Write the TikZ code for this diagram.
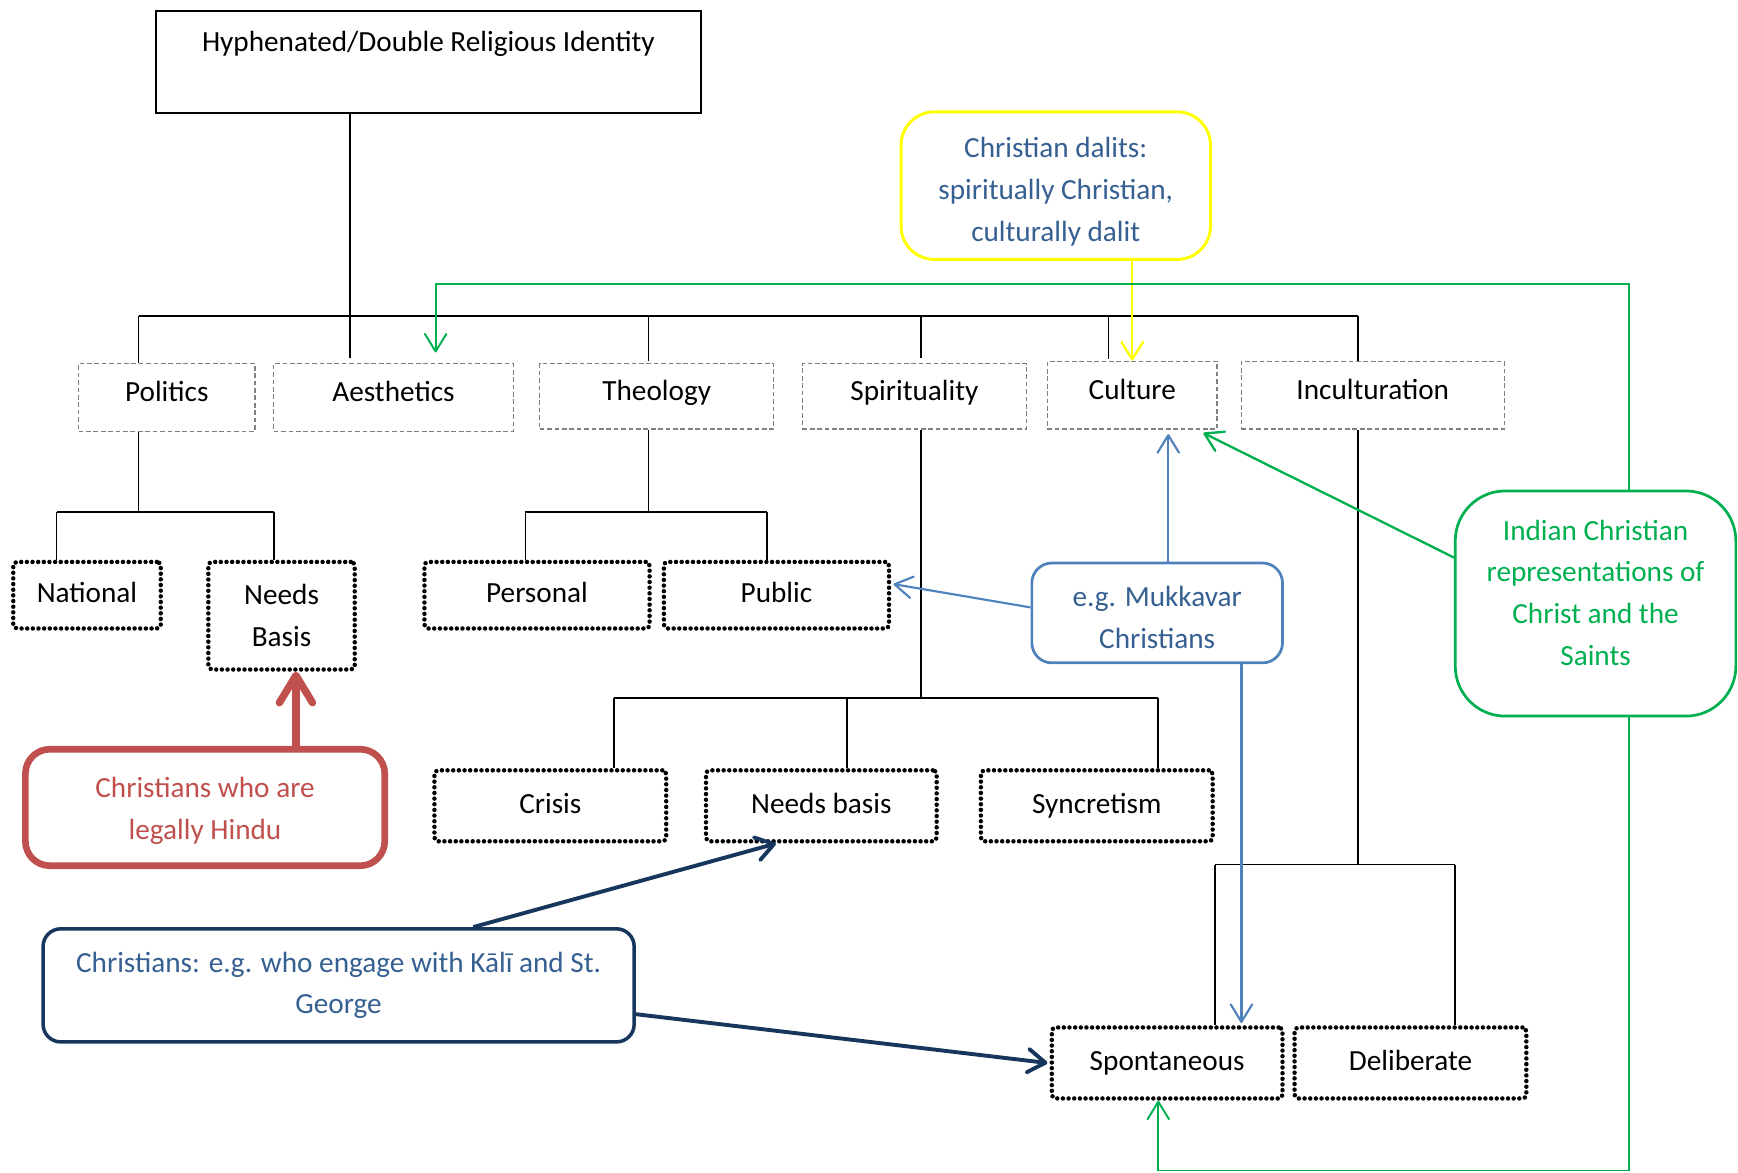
\documentclass[tikz,border=0pt]{standalone}
\usepackage{fontspec}
\setmainfont{Carlito}
\usetikzlibrary{arrows.meta}
\definecolor{txtblue}{HTML}{366092}
\definecolor{cgreen}{HTML}{00B050}
\definecolor{cblue}{HTML}{4F81BD}
\definecolor{cred}{HTML}{C0504D}
\definecolor{cnavy}{HTML}{17365D}
\definecolor{cyel}{HTML}{FFFF00}
\definecolor{dgray}{HTML}{7F7F7F}
\begin{document}
\begin{tikzpicture}[x=0.01cm,y=-0.01cm,
  font=\fontsize{7.5}{10.7}\selectfont,
  titlebox/.style={draw=black, line width=0.6pt, inner sep=0pt, align=center},
  dbox/.style={draw=dgray, line width=0.35pt, dash pattern=on 1.2pt off 0.7pt, inner sep=0pt, text height=5.4pt, text depth=3.2pt},
  pbox/.style={draw=black, line width=1.15pt, dash pattern=on 0pt off 1.45pt, line cap=round, rounded corners=1pt, inner sep=0pt},
  pone/.style={pbox, text height=6.8pt, text depth=3.0pt},
  conn/.style={draw=black, line width=0.45pt},
  callout/.style={fill=white, inner sep=0pt, align=center},
  thinarr/.style={line width=0.55pt, -{Straight Barb[length=4.5pt,width=5.5pt,round]}},
]
\useasboundingbox (0,0) rectangle (1568,1058);

% ---------- boxes ----------
\node[titlebox, minimum width=4.91cm, minimum height=0.92cm] (title) at (386.5,56) {Hyphenated/Double Religious Identity\\ ~};

\node[dbox, minimum width=1.59cm, minimum height=0.61cm] (pol) at (150.5,358.5) {Politics};
\node[dbox, minimum width=2.16cm, minimum height=0.61cm] (aes) at (355,358.5) {Aesthetics};
\node[dbox, minimum width=2.11cm, minimum height=0.59cm] (theo) at (592.5,357.5) {Theology};
\node[dbox, minimum width=2.02cm, minimum height=0.59cm] (spir) at (825,357.5) {Spirituality};
\node[dbox, minimum width=1.53cm, minimum height=0.61cm] (cul) at (1021.5,356.5) {Culture};
\node[dbox, minimum width=2.37cm, minimum height=0.61cm] (inc) at (1238.5,356.5) {Inculturation};

\node[pone, minimum width=1.33cm, minimum height=0.60cm] (nat) at (78.5,537) {National};
\node[pbox, align=center, minimum width=1.32cm, minimum height=0.97cm] (nbA) at (254,555.5) {Needs\\Basis};
\node[pone, minimum width=2.03cm, minimum height=0.60cm] (pers) at (484.5,537) {Personal};
\node[pone, minimum width=2.03cm, minimum height=0.60cm] (pub) at (700.5,537) {Public};

\node[pone, minimum width=2.09cm, minimum height=0.64cm] (cri) at (496.5,727) {Crisis};
\node[pone, minimum width=2.08cm, minimum height=0.64cm] (nbB) at (741,727) {Needs basis};
\node[pone, minimum width=2.09cm, minimum height=0.64cm] (syn) at (989.5,727) {Syncretism};

\node[pone, minimum width=2.08cm, minimum height=0.64cm] (spon) at (1053,959) {Spontaneous};
\node[pone, minimum width=2.09cm, minimum height=0.64cm] (del) at (1272.5,959) {Deliberate};

% ---------- tree connectors ----------
\coordinate (barL) at (125,285);
\coordinate (barR) at (1225,285);
\draw[conn] (barL) -- (barR);
\draw[conn] (title.south -| 316,0) -- (316,323);
\draw[conn] (barL) -- (pol.north -| barL);
\draw[conn] (585,285) -- (585,326);
\draw[conn] (831,285) -- (831,323);
\draw[conn] (1000,285) -- (1000,324);
\draw[conn] (barR) -- (1225,326);

\coordinate (pj) at (125,462);
\draw[conn] (pol.south -| pj) -- (pj);
\draw[conn] (51,462) -- (247,462);
\draw[conn] (51,462) -- (nat.north -| 51,0);
\draw[conn] (247,462) -- (nbA.north -| 247,0);

\coordinate (tj) at (585,462);
\draw[conn] (theo.south -| tj) -- (tj);
\draw[conn] (474,462) -- (692,462);
\draw[conn] (474,462) -- (pers.north -| 474,0);
\draw[conn] (692,462) -- (pub.north -| 692,0);

\coordinate (sj) at (831,630);
\draw[conn] (spir.south -| sj) -- (sj);
\draw[conn] (554,630) -- (1045,630);
\draw[conn] (554,630) -- (cri.north -| 554,0);
\draw[conn] (764,630) -- (nbB.north -| 764,0);
\draw[conn] (1045,630) -- (syn.north -| 1045,0);

\coordinate (ij) at (1225,780);
\draw[conn] (inc.south -| ij) -- (ij);
\draw[conn] (1096,780) -- (1313,780);
\draw[conn] (1096,780) -- (spon.north -| 1096,0);
\draw[conn] (1313,780) -- (del.north -| 1313,0);

% ---------- callouts ----------
\node[callout, draw=cyel, line width=0.75pt, rounded corners=0.3cm, text=txtblue,
      minimum width=2.79cm, minimum height=1.33cm] (yel) at (952.5,167.5)
      {\rule{0pt}{8.3pt}Christian dalits:\\spiritually Christian,\\culturally dalit};
\node[callout, draw=cgreen, line width=0.7pt, rounded corners=0.45cm, text=cgreen,
      minimum width=2.53cm, minimum height=2.03cm] (grn) at (1439.5,544.5)
      {Indian Christian\\representations of\\Christ and the\\Saints\\[-5pt]};
\node[callout, draw=cblue, line width=0.7pt, rounded corners=0.18cm, text=txtblue,
      minimum width=2.26cm, minimum height=0.90cm] (blu) at (1044,553)
      {\rule{0pt}{7.6pt}e.g. Mukkavar\\Christians};
\node[callout, draw=cred, line width=1.7pt, rounded corners=0.22cm, text=cred,
      minimum width=3.24cm, minimum height=1.05cm] (red) at (185,728.5)
      {\rule{0pt}{6.8pt}Christians who are\\legally Hindu};
\node[callout, draw=cnavy, line width=0.9pt, rounded corners=0.16cm, text=txtblue,
      minimum width=5.33cm, minimum height=1.02cm] (nav) at (305.5,889)
      {Christians: e.g. who engage with Kālī and St.\\George};

% ---------- coloured arrows ----------
\draw[thinarr, draw=cyel, line width=0.6pt] (cul.north |- yel.south) -- (cul.north);

\coordinate (g1) at (1470,256);
\coordinate (g2) at (393,256);
\coordinate (gA) at (393,318);
\draw[thinarr, draw=cgreen, line width=0.5pt] (grn.north -| g1) -- (g1) -- (g2) -- (gA);
\coordinate (g3) at (1470,1056);
\coordinate (g4) at (1045,1056);
\draw[thinarr, draw=cgreen, line width=0.5pt] (grn.south -| g3) -- (g3) -- (g4) -- (spon.south -| g4);
\draw[thinarr, draw=cgreen, line width=0.6pt] (grn.north west |- 0,503) -- ([xshift=-0.13cm,yshift=-0.03cm]cul.south east);

\draw[thinarr, draw=cblue] (blu.north -| 1054,0) -- ([yshift=-0.04cm]cul.south -| 1054,0);
\draw[thinarr, draw=cblue] (blu.west |- 0,548) -- ([xshift=0.02cm,yshift=0.1cm]pub.east);
\draw[thinarr, draw=cblue] (blu.south -| 1120,0) -- ([yshift=0.02cm]spon.north -| 1120,0);

\draw[draw=cred, line width=1.9pt, -{Straight Barb[length=7pt,width=8.5pt,round]}] (red.north -| 267,0) -- (nbA.south -| 267,0);

\draw[draw=cnavy, line width=1pt, -{Straight Barb[length=4.5pt,width=6pt,round]}] (nav.north -| 427,0) -- (nbB.south -| 700,0);
\draw[draw=cnavy, line width=1pt, -{Straight Barb[length=4.5pt,width=6pt,round]}] (nav.east |- 0,915) -- ([xshift=-0.02cm]spon.west);
\end{tikzpicture}
\end{document}
